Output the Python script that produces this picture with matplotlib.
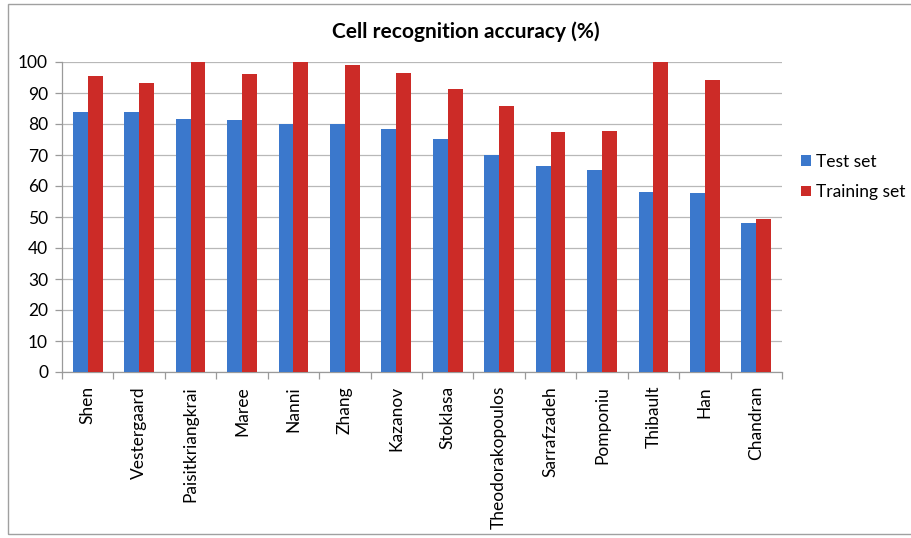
import matplotlib.pyplot as plt
import numpy as np
from matplotlib.patches import Rectangle

plt.rcParams['font.family'] = ['Lato', 'DejaVu Sans']

authors = ["Shen", "Vestergaard", "Paisitkriangkrai", "Maree", "Nanni", "Zhang",
           "Kazanov", "Stoklasa", "Theodorakopoulos", "Sarrafzadeh", "Pomponiu",
           "Thibault", "Han", "Chandran"]
test_set = [84.0, 83.8, 81.6, 81.3, 80.1, 79.9, 78.3, 75.3, 70.0, 66.4, 65.1, 58.0, 57.6, 48.2]
training_set = [95.6, 93.1, 100.0, 96.0, 100.0, 99.1, 96.5, 91.2, 85.9, 77.3, 77.7, 100.0, 94.2, 49.4]
yticks = list(range(0, 101, 10))

blue = "#3b78cc"
red = "#cc2b27"

fig = plt.figure(figsize=(9.12, 5.38), dpi=100)
# axes box in pixels: x 62..782, y 62..372 (from top)
ax = fig.add_axes([62 / 912, 1 - 372 / 538, 720 / 912, 310 / 538])

x = np.arange(len(authors))
w = 0.29
ax.bar(x - w / 2, test_set, width=w, color=blue, label="Test set", zorder=3)
ax.bar(x + w / 2, training_set, width=w, color=red, label="Training set", zorder=3)

ax.set_xlim(-0.5, len(authors) - 0.5)
ax.set_ylim(0, 100)
ax.set_yticks(yticks)
ax.set_yticklabels([str(v) for v in yticks], fontsize=12.5)
ax.yaxis.grid(True, color="#b8b8b8", linewidth=0.9, zorder=0)

ax.set_xticks(x)
ax.set_xticklabels(authors, rotation=90, fontsize=12.5)
ax.tick_params(axis="x", length=0, pad=10)
ax.set_xticks(np.arange(-0.5, len(authors)), minor=True)
ax.tick_params(axis="x", which="minor", length=5, color="#9a9a9a", width=0.9)
ax.tick_params(axis="y", length=5, color="#9a9a9a", width=0.9, pad=5)

for side in ("top", "right"):
    ax.spines[side].set_visible(False)
for side in ("left", "bottom"):
    ax.spines[side].set_color("#9a9a9a")
    ax.spines[side].set_linewidth(0.9)

fig.text(466 / 912, 1 - 32 / 538, "Cell recognition accuracy (%)",
         ha="center", va="center", fontsize=15, fontweight="bold")

leg = ax.legend(loc="center left", frameon=False, fontsize=12.5,
                handlelength=0.55, handleheight=0.55, handletextpad=0.3,
                labelspacing=0.85, borderaxespad=0, borderpad=0)
leg.set_bbox_to_anchor((801 / 912, 1 - 177 / 538), transform=fig.transFigure)

# outer chart frame
fig.patches.append(Rectangle((8 / 912, 4 / 538), 1.0, 530 / 538, transform=fig.transFigure,
                             fill=False, edgecolor="#a0a0a0", linewidth=1.0))

fig.savefig("out.png", dpi=100)
